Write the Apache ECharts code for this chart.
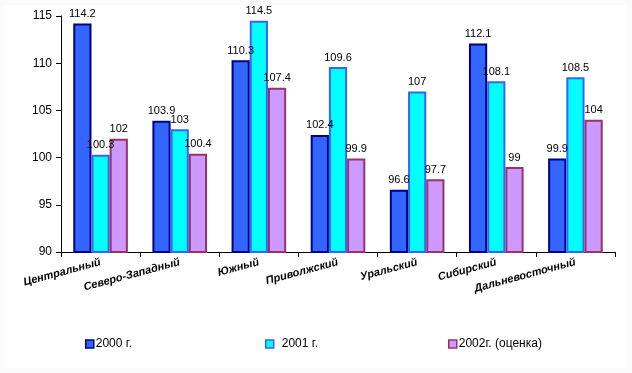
<!DOCTYPE html>
<html><head><meta charset="utf-8">
<script src="https://cdn.jsdelivr.net/npm/echarts@6/dist/echarts.min.js"></script>
<style>html,body{margin:0;padding:0;background:#fff}#c{width:632px;height:373px}</style>
</head><body><div id="c"></div>
<script>
const categories = ['Центральный','Северо-Западный','Южный','Приволжский','Уральский','Сибирский','Дальневосточный'];
const s2000 = [114.2, 103.9, 110.3, 102.4, 96.6, 112.1, 99.9];
const s2001 = [100.3, 103, 114.5, 109.6, 107, 108.1, 108.5];
const s2002 = [102, 100.4, 107.4, 99.9, 97.7, 99, 104];
const seriesNames = ['2000 г.', '2001 г.', '2002г. (оценка)'];
const yTicks = [90, 95, 100, 105, 110, 115];

const chart = echarts.init(document.getElementById('c'));
const lbl = {show:true, position:'top', distance:4, color:'#000', fontFamily:'Arial, Liberation Sans', fontSize:11};
function ser(name, data, fill, border){
  return {name, type:'bar', data, barGap:'0%', barCategoryGap:'31%',
    itemStyle:{color:fill, borderColor:border, borderWidth:2},
    label:lbl};
}
const legendLefts = [80, 260, 443];
const legendPad = [[0,0,0,-3],[0,0,0,3],[0,0,0,-3]];
chart.setOption({
  animation:false,
  backgroundColor:'#fbfbfb',
  textStyle:{fontFamily:'Arial, Liberation Sans'},
  graphic:[{type:'rect', left:4, top:5, z:-10, silent:true, shape:{width:623, height:363}, style:{fill:'#fff'}}],
  grid:{left:61, right:17, top:16, bottom:121},
  legend:seriesNames.map((n,i)=>({top:333, left:legendLefts[i], itemWidth:8, itemHeight:8, icon:'rect',
    data:[n],
    textStyle:{fontSize:12, color:'#000', fontFamily:'Arial, Liberation Sans', padding:legendPad[i]},
    itemStyle:{borderWidth:1.5}})),
  xAxis:{type:'category', data:categories,
    axisLine:{lineStyle:{color:'#000', width:1}},
    axisTick:{show:true, length:5, lineStyle:{color:'#000'}},
    axisLabel:{rotate:15, interval:0, margin:10, color:'#000', fontSize:11, fontWeight:'bold', fontStyle:'italic', fontFamily:'Arial, Liberation Sans'}},
  yAxis:{type:'value', min:yTicks[0], max:yTicks[yTicks.length-1], interval:5,
    splitLine:{show:false},
    axisLine:{show:true, lineStyle:{color:'#000'}},
    axisTick:{show:true, length:5, lineStyle:{color:'#000'}},
    axisLabel:{color:'#000', fontSize:12, margin:9, fontFamily:'Arial, Liberation Sans'}},
  series:[
    ser(seriesNames[0], s2000, '#3366FF', '#000080'),
    ser(seriesNames[1], s2001, '#00FFFF', '#3366FF'),
    ser(seriesNames[2], s2002, '#CC99FF', '#993366')
  ]
});
</script></body></html>
